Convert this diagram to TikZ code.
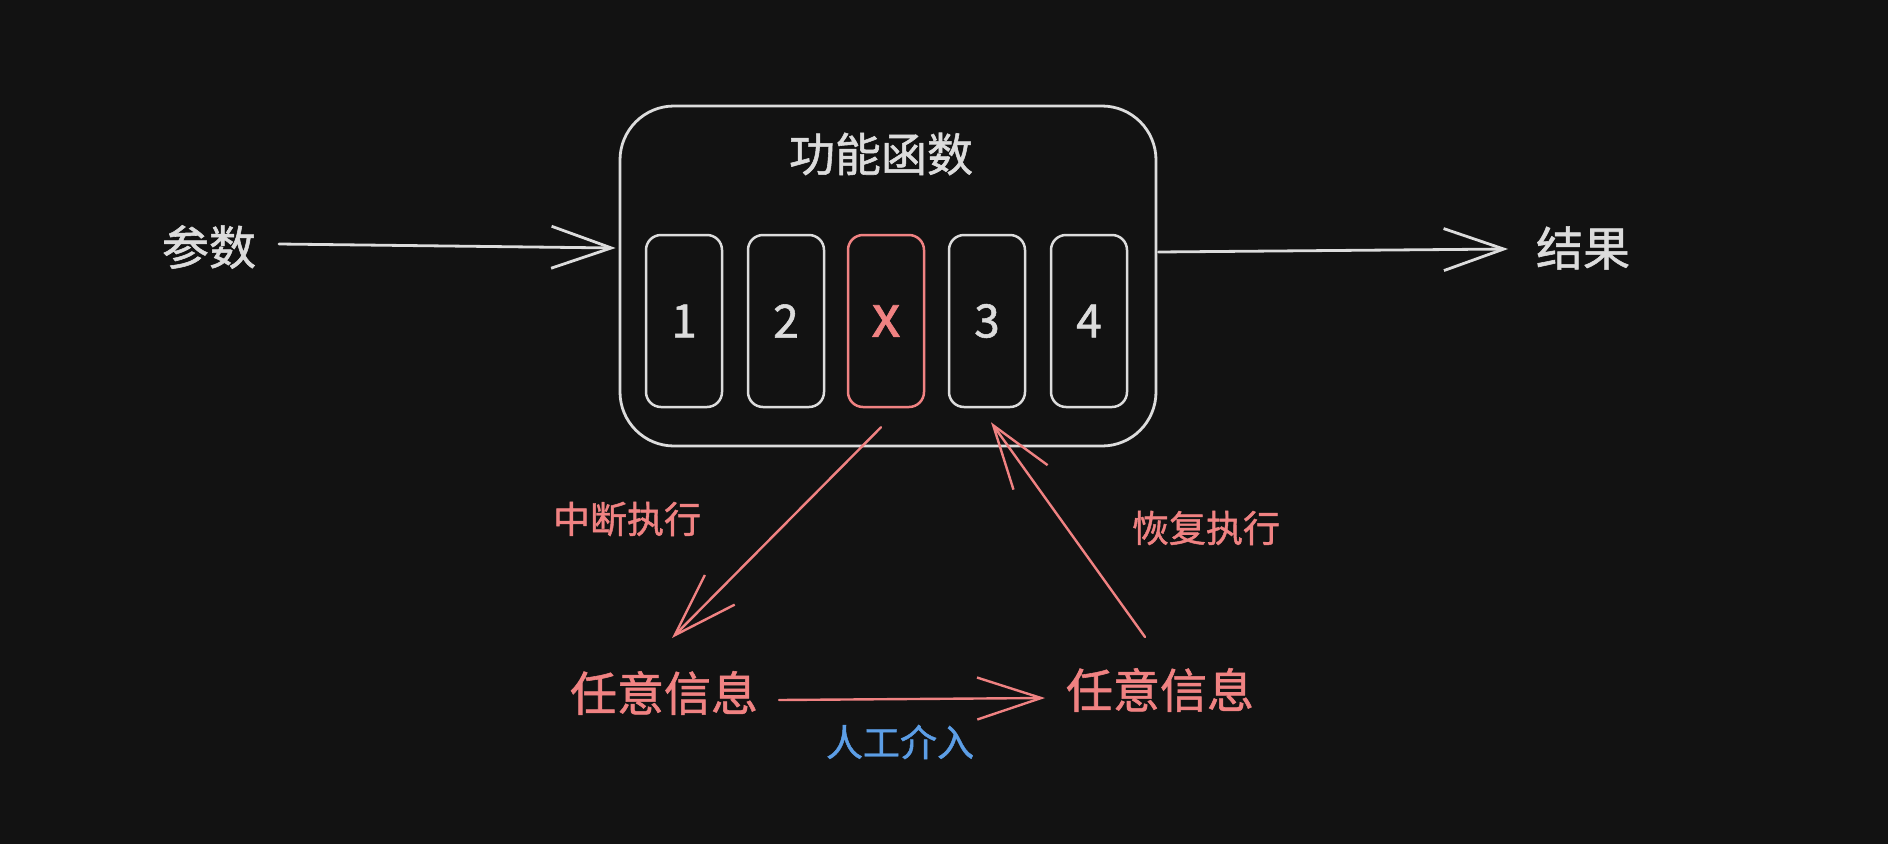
\documentclass[tikz,border=0pt]{standalone}
\usepackage{fontspec}
\newfontfamily\cjk{Noto Sans CJK SC}[FakeBold=1.2]
\usetikzlibrary{arrows.meta,calc}
\definecolor{bg}{HTML}{121212}
\definecolor{ink}{HTML}{DCDCDC}
\definecolor{redink}{HTML}{F08282}
\definecolor{blueink}{HTML}{5C9EE6}
\begin{document}
\begin{tikzpicture}[x=1pt,y=-1pt,
  outerbox/.style={draw=ink, line width=2.8pt, rounded corners=54pt, minimum width=536pt, minimum height=340pt, inner sep=0pt},
  slot/.style={draw=ink, line width=2.5pt, rounded corners=15pt, minimum width=76pt, minimum height=172pt, inner sep=0pt, text=ink, font=\cjk\fontsize{46}{50}\selectfont},
  redslot/.style={slot, draw=redink, text=redink, font=\cjk\fontsize{58}{60}\selectfont},
  bigtext/.style={text=ink, inner sep=0pt, font=\cjk\fontsize{47}{50}\selectfont},
  titletext/.style={text=ink, inner sep=0pt, font=\cjk\fontsize{46}{50}\selectfont},
  bigred/.style={text=redink, inner sep=0pt, font=\cjk\fontsize{47}{50}\selectfont},
  smallred/.style={text=redink, inner sep=0pt, font=\cjk\fontsize{37}{40}\selectfont},
  smallblue/.style={text=blueink, inner sep=0pt, font=\cjk\fontsize{37}{40}\selectfont},
  inkarrow/.style={draw=ink, line width=2.8pt, line cap=round, line join=round, -{Straight Barb[length=60pt,width=42pt]}},
  redarrow/.style={draw=redink, line width=2.4pt, line cap=round, line join=round, -{Straight Barb[length=64pt,width=42pt]}}
]
\fill[bg] (0,0) rectangle (1888,844);
\useasboundingbox (0,0) rectangle (1888,844);

% main function box
\node[outerbox] (fn) at (888,276) {};
\node[titletext] (title) at (881,154) {功能函数};

% slots
\node[slot] (s1) at (684,321) {1};
\node[slot] (s2) at (786,321) {2};
\node[redslot] (sx) at (886,321) {x};
\node[slot] (s3) at (987,321) {3};
\node[slot] (s4) at (1089,321) {4};

% input / output
\node[bigtext] (params) at (209,247) {参数};
\node[bigtext] (result) at (1583,248) {结果};

% info nodes
\node[bigred] (infoL) at (664,693) {任意信息};
\node[bigred] (infoR) at (1160,690) {任意信息};

% labels
\node[smallred] (lblstop) at (627,519) {中断执行};
\node[smallred] (lblresume) at (1206,528) {恢复执行};
\node[smallblue] (lblhuman) at (900,742) {人工介入};

% connectors
\draw[inkarrow] ($(params.center)+(70,-3)$) -- ($(fn.west)+(-3,-28)$);
\draw[inkarrow] ($(fn.east)+(1,-24)$) -- ($(result.center)+(-75,1)$);
\draw[redarrow] ($(sx.south)+(-5,19)$) -- ($(infoL.center)+(8,-55)$);
\draw[redarrow] ($(infoR.center)+(-15,-53)$) -- ($(s3.south)+(4,14)$);
\draw[redarrow] ($(infoL.center)+(115,7)$) -- ($(infoR.center)+(-115,8)$);
\end{tikzpicture}
\end{document}
